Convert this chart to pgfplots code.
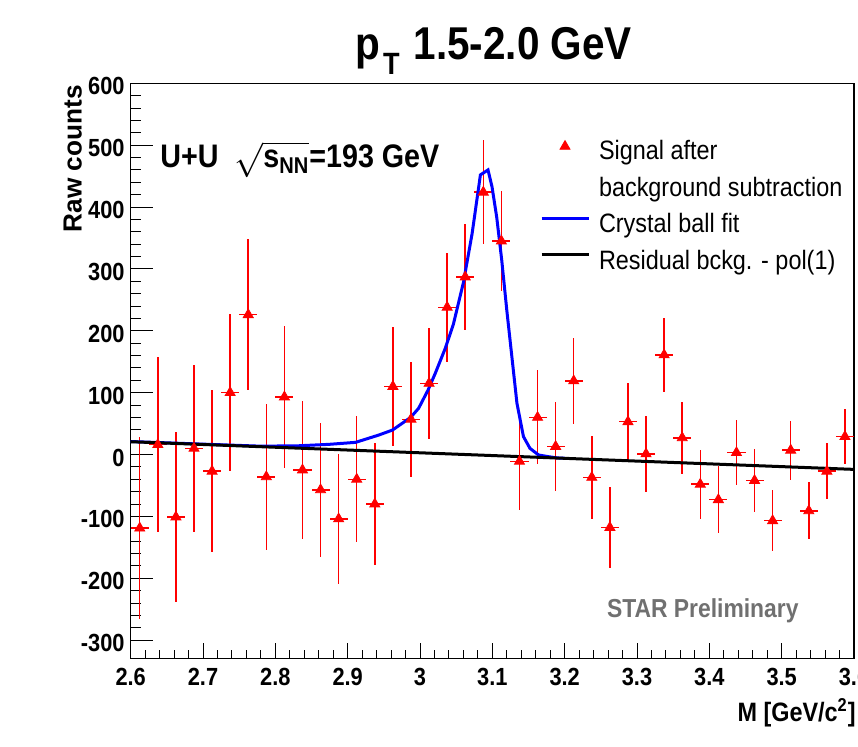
\documentclass[border=0pt]{standalone}
\usepackage{pgfplots}
\pgfplotsset{compat=1.18}
\usepackage{amsmath}
\usepackage{fontspec}
\setmainfont{Liberation Sans}[FakeStretch=0.88]
\newfontfamily\plainfont{Liberation Sans}
\definecolor{stargray}{RGB}{112,112,112}
\pgfplotsset{
  leglineimg/.style={legend image code/.code={\draw[##1] (0pt,3.85pt) -- (23.5pt,3.85pt);}},
  legmarkimg/.style={legend image code/.code={\draw[##1] plot coordinates {(11.75pt,3.3pt)};}},
}
\pgfplotstableread{
x y e
2.6125 -119 147
2.6375 16 142
2.6625 -101 138
2.6875 10 135
2.7125 -27 131
2.7375 100 127
2.7625 226 122
2.7875 -36 118
2.8125 93 115
2.8375 -25 112
2.8625 -57 108
2.8875 -104 105
2.9125 -40 102
2.9375 -80 99
2.9625 110 96
2.9875 57 93
3.0125 115 90
3.0375 238 88
3.0625 287 85
3.0875 424 84
3.1125 345 81
3.1375 -11 78
3.1625 60 76
3.1875 13 72
3.2125 119 70
3.2375 -37 67
3.2625 -118 66
3.2875 53 63
3.3125 1 62
3.3375 161 60
3.3625 27 58
3.3875 -48 56
3.4125 -73 54
3.4375 3 53
3.4625 -42 51
3.4875 -107 49
3.5125 7 48
3.5375 -91 46
3.5625 -27 45
3.5875 29 44
}\signal
\begin{document}
\begin{tikzpicture}[x=1pt,y=1pt]
\useasboundingbox (0,0) rectangle (429,373);
\pgfplotsset{
  myaxis/.style={
    at={(65.35pt,43.65pt)}, anchor=south west,
    scale only axis, width=361.65pt, height=287.7pt,
    xmin=2.6, xmax=3.6, ymin=-330, ymax=600,
    tick align=inside,
    /pgf/number format/assume math mode=true,
    tick label style={font=\bfseries\fontsize{12.4}{12.4}\selectfont},
    every tick/.style={black, line width=0.5pt},
  }
}
\begin{axis}[myaxis,
  ytick={-300,-200,-100,0,100,200,300,400,500,600},
  minor y tick num=4, ytick pos=left, xtick=\empty,
  major tick length=11pt, minor tick length=5pt,
  yticklabel style={anchor=east, inner sep=0pt, xshift=-2.85pt, yshift=-1.5pt},
  axis line style={line width=0.6pt},
  legend cell align=left,
  legend style={at={(0.5659,0.9015)}, anchor=north west, draw=none, fill=none,
    inner sep=0pt, outer sep=0pt, row sep=5.2pt,
    font=\fontsize{13.3}{13.3}\selectfont,
    nodes={inner sep=0pt, text height=10pt, text depth=3pt},
    /tikz/every odd column/.append style={column sep=4.5pt}},
]
\addplot[only marks, mark=triangle*, mark size=2.9pt, red, legmarkimg,
  error bars/.cd, x dir=both, x fixed=0.0125, y dir=both, y explicit,
  error mark=none, error bar style={line width=0.75pt, red}]
  table[x=x, y=y, y error=e] {\signal};
\addlegendentry{Signal after}
\addlegendimage{empty legend}
\addlegendentry{background subtraction}
\addplot[blue, line width=1.5pt, no marks, sharp plot, leglineimg]
  coordinates {
  (2.600,21) (2.700,16.8) (2.780,13.5) (2.833,14.2) (2.8745,16.5) (2.911,19.7)
  (2.943,31.5) (2.962,39.6) (2.987,60) (2.998,74.6) (3.011,104) (3.021,131)
  (3.035,172) (3.046,210) (3.060,278) (3.072,357) (3.0835,452) (3.094,460)
  (3.0995,433) (3.106,384) (3.113,314) (3.120,233) (3.127,158) (3.134,83)
  (3.143,29) (3.152,10) (3.164,-0.8) (3.178,-3.5) (3.190,-5.5) (3.200,-6)};
\addlegendentry{Crystal ball fit}
\addplot[black, line width=1.5pt, no marks, leglineimg]
  coordinates {(2.6,20.7) (3.6,-24)};
\addlegendentry{Residual bckg. - pol(1)}
\end{axis}
\begin{axis}[myaxis,
  xtick={2.6,2.7,2.8,2.9,3.0,3.1,3.2,3.3,3.4,3.5,3.6},
  minor x tick num=4, xtick pos=bottom, ytick=\empty,
  major tick length=8pt, minor tick length=4.5pt,
  axis line style={draw=none},
  xticklabel style={anchor=north, inner sep=0pt, yshift=-4.65pt},
]
\end{axis}
\node[anchor=base west, inner sep=0pt, font=\bfseries\fontsize{23}{23}\selectfont]
  at (177.5,343) {p\hspace{1.5pt}\raisebox{-7.5pt}{\fontsize{15.4}{15.4}\selectfont T}\hspace{7pt}1.5-2.0 GeV};
\node[anchor=base east, inner sep=0pt, rotate=90, font=\plainfont\bfseries\fontsize{13.1}{13.1}\selectfont]
  at (40.85,330.5) {Raw counts};
\node[anchor=base east, inner sep=0pt, font=\bfseries\fontsize{13.3}{13.3}\selectfont]
  at (428,12.15) {M [GeV/c\textsuperscript{2}]};
\node[anchor=base west, inner sep=0pt, font=\bfseries\fontsize{16.3}{16.3}\selectfont]
  at (80,289) {U+U\hspace{8pt}$\sqrt{\text{s}_{\text{NN}}}$=193 GeV};
\node[anchor=base west, inner sep=0pt, text=stargray, font=\bfseries\fontsize{13}{13}\selectfont]
  at (303.3,64.15) {STAR Preliminary};
\end{tikzpicture}
\end{document}
